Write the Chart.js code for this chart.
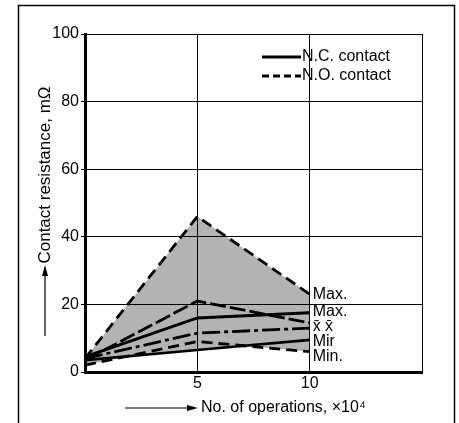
<!DOCTYPE html>
<html>
<head>
<meta charset="utf-8">
<script src="https://cdn.jsdelivr.net/npm/chart.js@4"></script>
<style>
  html, body { margin: 0; padding: 0; background: #fff; }
  canvas { display: block; }
</style>
</head>
<body>
<canvas id="chart" width="459" height="423"></canvas>
<script>
// data (x = operations x10^4, y = mOhm)
const ops     = [0, 5, 10];
const noMax   = [4, 46, 23];
const noMean  = [3.5, 21, 14.5];
const noMin   = [2, 9, 6];
const ncMax   = [4.5, 16, 17.5];
const ncMean  = [4, 11.5, 13];
const ncMin   = [3.5, 6.5, 9.5];

const yTicks  = [0, 20, 40, 60, 80, 100];
const xTicks  = [5, 10];

const sideLabels = ['Max.', 'Max.', 'x\u0304 x\u0304', 'Mir', 'Min.'];
const sideLabelY = [23, 18, 13.5, 9, 4.5];

const FONT = '"Liberation Sans", Arial, sans-serif';
const SHADE = '#b3b3b3';

const pts = arr => ops.map((x, i) => ({ x, y: arr[i] }));

function line(data, dash, width, fill) {
    return {
        data: pts(data),
        borderColor: '#000',
        borderWidth: width,
        borderDash: dash,
        pointRadius: 0,
        tension: 0,
        fill: fill === undefined ? false : fill,
        backgroundColor: SHADE,
    };
}

// titles, legend, labels, frame
const extras = {
    id: 'extras',
    afterDraw(chart) {
        const ctx = chart.ctx;
        const xs = chart.scales.x, ys = chart.scales.y;
        ctx.save();
        ctx.fillStyle = '#000';
        ctx.strokeStyle = '#000';

        // outer frame
        ctx.lineWidth = 1.5;
        ctx.strokeRect(18.5, 5.5, 436, 500);

        // legend
        ctx.font = '16px ' + FONT;
        ctx.textBaseline = 'middle';
        ctx.lineWidth = 2.8;
        ctx.beginPath(); ctx.moveTo(262, 57); ctx.lineTo(301, 57); ctx.stroke();
        ctx.setLineDash([7, 4]);
        ctx.beginPath(); ctx.moveTo(262, 76); ctx.lineTo(301, 76); ctx.stroke();
        ctx.setLineDash([]);
        ctx.fillText('N.C. contact', 302, 57);
        ctx.fillText('N.O. contact', 302, 76);

        // labels at the end of the lines
        const lx = xs.getPixelForValue(10) + 3;
        sideLabels.forEach((t, i) => ctx.fillText(t, lx, ys.getPixelForValue(sideLabelY[i])));

        // y title with arrow
        ctx.save();
        ctx.translate(45, 175);
        ctx.rotate(-Math.PI / 2);
        ctx.textAlign = 'center';
        ctx.font = '17px ' + FONT;
        ctx.fillText('Contact resistance, m\u03A9', 0, 0);
        ctx.restore();
        ctx.lineWidth = 1.2;
        ctx.beginPath(); ctx.moveTo(45, 336); ctx.lineTo(45, 272); ctx.stroke();
        ctx.beginPath(); ctx.moveTo(45, 265); ctx.lineTo(42, 276); ctx.lineTo(48, 276); ctx.closePath(); ctx.fill();

        // x title with arrow
        ctx.textAlign = 'left';
        ctx.fillText('No. of operations, \u00D710\u2074', 201, 408);
        ctx.beginPath(); ctx.moveTo(125, 408); ctx.lineTo(190, 408); ctx.stroke();
        ctx.beginPath(); ctx.moveTo(198, 408); ctx.lineTo(187, 405); ctx.lineTo(187, 411); ctx.closePath(); ctx.fill();

        ctx.restore();
    }
};

new Chart(document.getElementById('chart'), {
    type: 'line',
    data: {
        datasets: [
            line(ncMin, [], 2.6),                 // 0
            line(noMax, [11, 6], 2.8, 0),         // 1 shade down to N.C. min
            line(noMin, [11, 6], 2.8, 0),         // 2 shade between mins
            line(noMean, [16, 4], 2.8),
            line(ncMax, [], 3),
            line(ncMean, [18, 4, 4, 4], 2.8),
        ]
    },
    options: {
        responsive: false,
        devicePixelRatio: 1,
        animation: false,
        layout: { padding: { top: 34, right: 37, left: 0, bottom: 0 } },
        plugins: {
            legend: { display: false },
            tooltip: { enabled: false },
            filler: { drawTime: 'beforeDatasetsDraw' },
        },
        scales: {
            x: {
                type: 'linear',
                min: 0, max: 15,
                afterFit: s => { s.height = 51; },
                afterBuildTicks: s => { s.ticks = [0, ...xTicks, 15].map(v => ({ value: v })); },
                ticks: {
                    color: '#000',
                    font: { family: FONT, size: 16 },
                    padding: 2,
                    maxRotation: 0,
                    callback: v => xTicks.includes(v) ? String(v) : '',
                },
                grid: { color: '#000', lineWidth: 1, drawTicks: false, z: 1 },
                border: { color: '#000', width: 3, z: 1 },
            },
            y: {
                min: 0, max: 100,
                afterFit: s => { s.width = 85; },
                afterBuildTicks: s => { s.ticks = yTicks.map(v => ({ value: v })); },
                ticks: {
                    color: '#000',
                    font: { family: FONT, size: 16 },
                    padding: 2,
                },
                grid: { color: '#000', lineWidth: 1, tickLength: 4, z: 1 },
                border: { color: '#000', width: 3, z: 1 },
            }
        }
    },
    plugins: [extras]
});
</script>
</body>
</html>
